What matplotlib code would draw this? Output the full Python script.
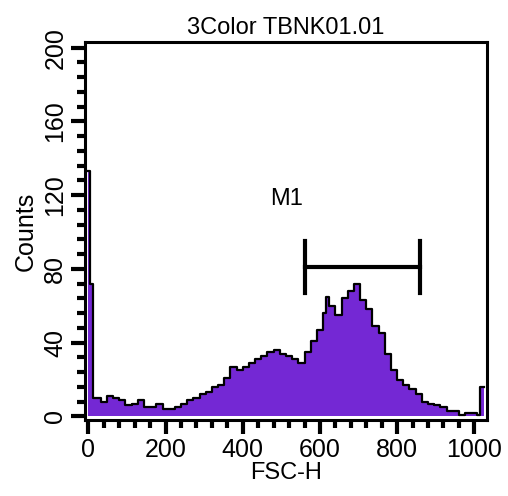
import matplotlib
matplotlib.use('Agg')
import matplotlib.pyplot as plt
from matplotlib.ticker import MultipleLocator

plt.rcParams['font.family'] = ['Liberation Sans', 'DejaVu Sans']

# channel positions and counts
channels = [0, 4, 12, 16, 32, 48, 64, 80, 96, 112, 128, 144, 160, 176, 192, 208,
            224, 240, 256, 272, 288, 304, 320, 336, 352, 368, 384, 400, 416, 432,
            448, 464, 480, 496, 512, 528, 544, 560, 576, 592, 608, 616, 624, 640,
            656, 672, 688, 704, 720, 736, 752, 768, 784, 800, 816, 832, 848, 864,
            880, 896, 912, 928, 944, 960, 976, 992, 1008, 1016, 1024]
counts = [133, 72, 10, 10, 8, 11, 10, 9, 6, 7, 9, 5, 5, 7, 4, 4,
          5, 7, 9, 10, 12, 13, 16, 17, 21, 27, 25, 27, 29, 31,
          33, 35, 36, 34, 33, 31, 29, 35, 41, 47, 56, 65, 60, 55,
          64, 68, 72, 63, 58, 49, 45, 34, 25, 20, 17, 15, 12, 8,
          7, 6, 5, 3, 3, 1, 2, 2, 1, 16, 16]
marker_lo, marker_hi, marker_y = 560, 860, 81

fig = plt.figure(figsize=(5.08, 4.96), dpi=100)
ax = fig.add_axes([0.168, 0.153, 0.79, 0.762])
ax.fill_between(channels, counts, step='post', color='#7428d4', lw=0)
ax.step(channels, counts, where='post', color='black', lw=1.6)
ax.set_xlim(-8, 1032)
ax.set_ylim(-2, 203)

ax.plot([marker_lo, marker_hi], [marker_y, marker_y], color='black', lw=3)
ax.plot([marker_lo, marker_lo], [67, 95], color='black', lw=3)
ax.plot([marker_hi, marker_hi], [67, 95], color='black', lw=3)
ax.text(513, 118, 'M1', fontsize=17, ha='center', va='center')

ax.xaxis.set_major_locator(MultipleLocator(200))
ax.xaxis.set_minor_locator(MultipleLocator(40))
ax.yaxis.set_major_locator(MultipleLocator(40))
ax.yaxis.set_minor_locator(MultipleLocator(8))
ax.tick_params(which='major', direction='out', length=10, width=3, labelsize=18, pad=3)
ax.tick_params(which='minor', direction='out', length=6, width=3)
plt.setp(ax.get_yticklabels(), rotation=90, va='center')
for s in ax.spines.values():
    s.set_linewidth(2.2)

ax.set_xlabel('FSC-H', fontsize=17, labelpad=0)
ax.set_ylabel('Counts', fontsize=18, labelpad=4)
ax.set_title('3Color TBNK01.01', fontsize=17, pad=6)
fig.savefig('out.png')
